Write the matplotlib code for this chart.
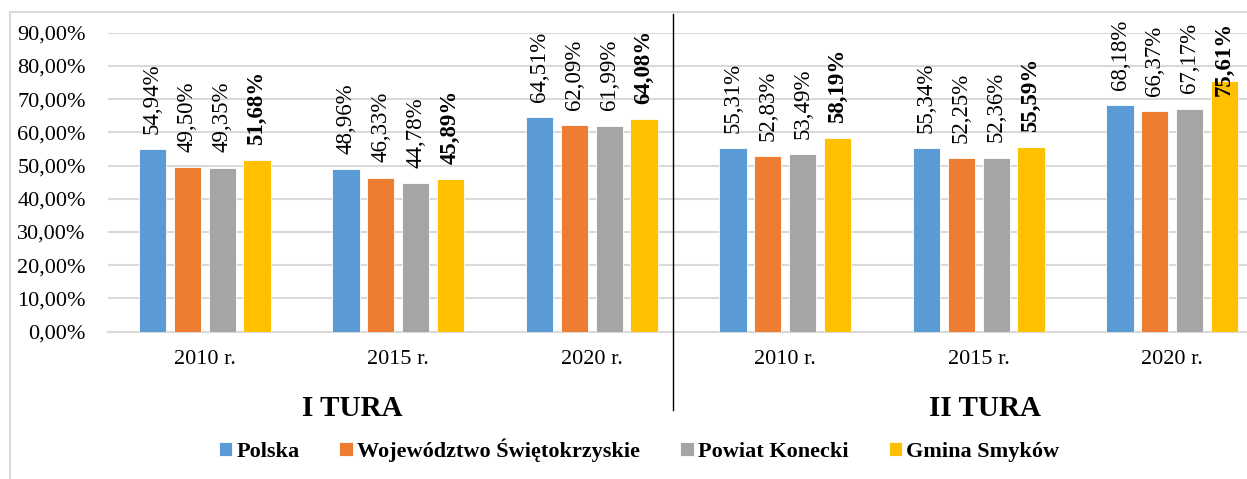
import matplotlib.pyplot as plt
import matplotlib.patches as mpatches
from matplotlib.lines import Line2D
import numpy as np

plt.rcParams['font.family'] = ['Liberation Serif', 'DejaVu Serif']

# dane
kategorie = ['2010 r.', '2015 r.', '2020 r.', '2010 r.', '2015 r.', '2020 r.']
serie = ['Polska', 'Województwo Świętokrzyskie', 'Powiat Konecki', 'Gmina Smyków']
polska = [54.94, 48.96, 64.51, 55.31, 55.34, 68.18]
wojewodztwo = [49.50, 46.33, 62.09, 52.83, 52.25, 66.37]
powiat = [49.35, 44.78, 61.99, 53.49, 52.36, 67.17]
gmina = [51.68, 45.89, 64.08, 58.19, 55.59, 75.61]
tury = ['I TURA', 'II TURA']

kolory = ['#5B9BD5', '#ED7D31', '#A5A5A5', '#FFC000']
wartosci = [polska, wojewodztwo, powiat, gmina]

fig = plt.figure(figsize=(12.47, 4.79), dpi=100)
ax = fig.add_axes([108 / 1247, 147.3 / 479, 1161 / 1247, 299 / 479])

x = np.arange(len(kategorie))
szer = 0.14
krok = 0.18
for i, (vals, kol) in enumerate(zip(wartosci, kolory)):
    pos = x + (i - 1.5) * krok
    ax.bar(pos, vals, width=szer, color=kol, edgecolor='white', linewidth=0.6,
           label=serie[i], zorder=3)
    for px, v in zip(pos, vals):
        txt = f'{v:.2f}%'.replace('.', ',')
        waga = 'bold' if i == 3 else 'normal'
        if v > 70:
            # etykieta nie miesci sie nad slupkiem
            ax.text(px, 93.3, txt, rotation=90, ha='center', va='top', fontsize=16.5,
                    fontweight=waga, clip_on=False, zorder=4)
        else:
            ax.text(px, v + 4.6, txt, rotation=90, ha='center', va='bottom',
                    fontsize=16.5, fontweight=waga, zorder=4)

ax.set_xlim(-0.5, 5.5)
ax.set_ylim(0, 90)
ax.set_yticks(np.arange(0, 91, 10))
ax.set_yticklabels([f'{t:.2f}%'.replace('.', ',') for t in np.arange(0, 91, 10)])
ax.set_xticks(x)
ax.set_xticklabels(kategorie)
ax.tick_params(axis='y', length=0, pad=16, labelsize=16)
ax.tick_params(axis='x', length=0, pad=13, labelsize=16)
ax.grid(axis='y', color='#D9D9D9', linewidth=1.5, zorder=0)
for s in ['top', 'right', 'left']:
    ax.spines[s].set_visible(False)
ax.spines['bottom'].set_color('#D9D9D9')
ax.spines['bottom'].set_linewidth(1.5)

# podpisy tur
fig.text(352 / 1247, 1 - 408 / 479, tury[0], ha='center', va='center',
         fontsize=21, fontweight='bold')
fig.text(985 / 1247, 1 - 408 / 479, tury[1], ha='center', va='center',
         fontsize=21, fontweight='bold')

# linia rozdzielajaca
fig.add_artist(Line2D([673 / 1247, 673 / 1247], [1 - 410 / 479, 1 - 14 / 479],
                      color='black', linewidth=1))

# ramka wykresu
fig.add_artist(mpatches.Rectangle((10 / 1247, -0.1), 1.1, 1 - 12 / 479 + 0.1,
                                  fill=False, edgecolor='#D9D9D9', linewidth=1.5))

fig.legend(loc='center', bbox_to_anchor=(639 / 1247, 1 - 450 / 479), ncol=4,
           frameon=False, prop={'weight': 'bold', 'size': 16},
           handlelength=0.6, handleheight=0.6, handletextpad=0.2,
           columnspacing=1.8)

fig.savefig('out.png', dpi=100)
